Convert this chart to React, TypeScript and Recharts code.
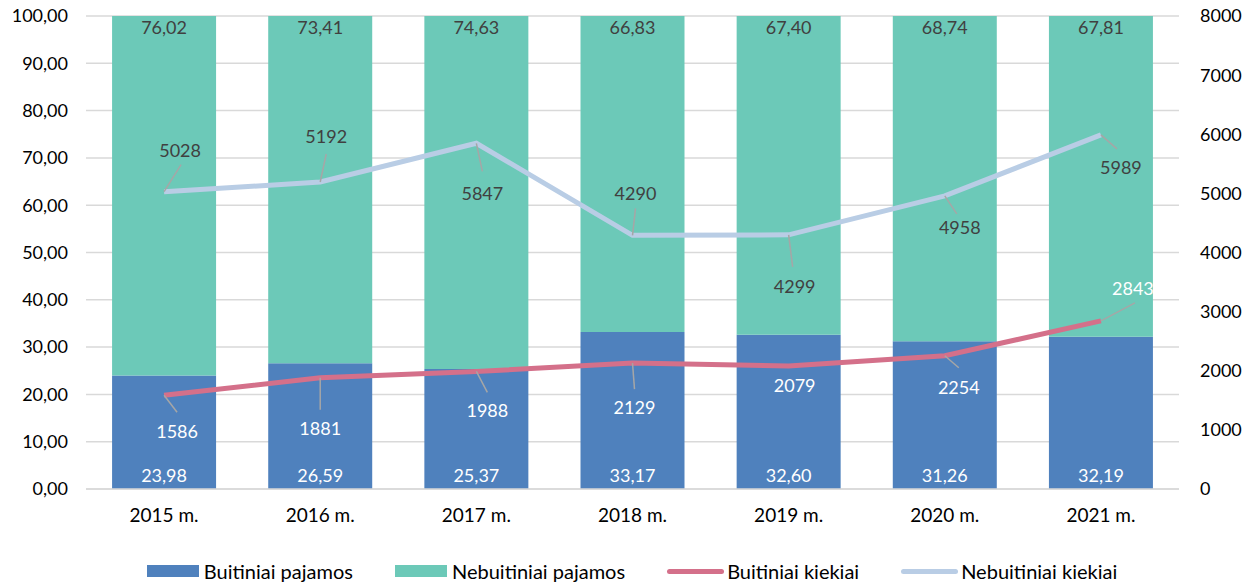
import React from 'react';
import { ComposedChart, Bar, Line, XAxis, YAxis, CartesianGrid, Legend, LabelList } from 'recharts';

const years = ['2015 m.', '2016 m.', '2017 m.', '2018 m.', '2019 m.', '2020 m.', '2021 m.'];
const buitiniaiPajamos = [23.98, 26.59, 25.37, 33.17, 32.6, 31.26, 32.19];
const nebuitiniaiPajamos = [76.02, 73.41, 74.63, 66.83, 67.4, 68.74, 67.81];
const buitiniaiKiekiai = [1586, 1881, 1988, 2129, 2079, 2254, 2843];
const nebuitiniaiKiekiai = [5028, 5192, 5847, 4290, 4299, 4958, 5989];
const leftTicks = [0, 10, 20, 30, 40, 50, 60, 70, 80, 90, 100];
const rightTicks = [0, 1000, 2000, 3000, 4000, 5000, 6000, 7000, 8000];

// label placement for line labels: [leaderDx, leaderDy, textDx, textDy]
const buitLabelPos = [
  [13, 17, 13, 36], [0, 32, 0, 50], [11, 21, 11, 39], [2, 26, 2, 44],
  [0, 0, 6, 19], [14, 12, 14, 31], [34, -18, 32, -33],
];
const nebuitLabelPos = [
  [17, -27, 16, -42], [6, -28, 6, -46], [6, 28, 6, 50], [3, -27, 3, -42],
  [4, 32, 6, 51], [12, 18, 15, 31], [16, 14, 20, 32],
];

const data = years.map((y, i) => ({
  year: y,
  bp: buitiniaiPajamos[i],
  np: nebuitiniaiPajamos[i],
  bk: buitiniaiKiekiai[i],
  nk: nebuitiniaiKiekiai[i],
}));

const FONT = 'Lato, "Open Sans", sans-serif';
const fmt2 = (v: number) => v.toFixed(2).replace('.', ',');

const makeLineLabel = (pos: number[][], color: string) => (props: any) => {
  const { x, y, index, value } = props;
  const p = pos[index];
  return (
    <g>
      {(p[0] !== 0 || p[1] !== 0) && (
        <line x1={x} y1={y} x2={x + p[0]} y2={y + p[1]} stroke="#A6A6A6" strokeWidth={1.5} />
      )}
      <text x={x + p[2]} y={y + p[3]} textAnchor="middle" dominantBaseline="central" fill={color} fontSize={18} fontFamily={FONT}>
        {value}
      </text>
    </g>
  );
};

const bottomLabel = (props: any) => {
  const { x, y, width, height, value } = props;
  return (
    <text x={x + width / 2} y={y + height - 14} textAnchor="middle" dominantBaseline="central" fill="#fff" fontSize={18} fontFamily={FONT}>
      {fmt2(value)}
    </text>
  );
};

const topLabel = (props: any) => {
  const { x, y, width, value } = props;
  return (
    <text x={x + width / 2} y={y + 11} textAnchor="middle" dominantBaseline="central" fill="#404040" fontSize={18} fontFamily={FONT}>
      {fmt2(value)}
    </text>
  );
};

const legendItems = [
  { name: 'Buitiniai pajamos', color: '#4F81BD', kind: 'rect' },
  { name: 'Nebuitiniai pajamos', color: '#6CC9B8', kind: 'rect' },
  { name: 'Buitiniai kiekiai', color: '#D4708A', kind: 'line' },
  { name: 'Nebuitiniai kiekiai', color: '#B9CDE5', kind: 'line' },
];

const renderLegend = () => (
  <div style={{ display: 'flex', justifyContent: 'center', alignItems: 'center', gap: 42, height: 40, paddingTop: 16, paddingLeft: 6, boxSizing: 'border-box', fontFamily: FONT, fontSize: 20, color: '#000' }}>
    {legendItems.map((it) => (
      <div key={it.name} style={{ display: 'flex', alignItems: 'center' }}>
        {it.kind === 'rect' ? (
          <div style={{ width: 52, height: 12, background: it.color, marginRight: 5 }} />
        ) : (
          <div style={{ width: 57, height: 5, borderRadius: 3, background: it.color, marginRight: 3 }} />
        )}
        <span>{it.name}</span>
      </div>
    ))}
  </div>
);

export default function App() {
  return (
    <div style={{ position: 'absolute', left: 0, top: 0, background: '#fff' }}>
      <ComposedChart width={1258} height={583} data={data} margin={{ top: 16, right: 8, bottom: 0, left: 8 }} barCategoryGap="16.7%">
        <CartesianGrid vertical={false} stroke="#D9D9D9" strokeWidth={1.5} yAxisId="left" />
        <XAxis
          dataKey="year"
          axisLine={{ stroke: '#D9D9D9', strokeWidth: 1.5 }}
          tickLine={false}
          height={54}
          tickMargin={14}
          tick={{ fill: '#000', fontSize: 19, fontFamily: FONT }}
        />
        <YAxis
          yAxisId="left"
          domain={[0, 100]}
          ticks={leftTicks}
          tickFormatter={fmt2}
          axisLine={false}
          tickLine={false}
          width={78}
          tickMargin={12}
          tick={{ fill: '#000', fontSize: 18, fontFamily: FONT }}
        />
        <YAxis
          yAxisId="right"
          orientation="right"
          domain={[0, 8000]}
          ticks={rightTicks}
          axisLine={false}
          tickLine={false}
          width={71}
          tickMargin={15}
          tick={{ fill: '#000', fontSize: 18, fontFamily: FONT, textAnchor: 'start' }}
        />
        <Legend verticalAlign="bottom" height={40} content={renderLegend} />
        <Bar yAxisId="left" dataKey="bp" stackId="a" fill="#4F81BD" name="Buitiniai pajamos" isAnimationActive={false}>
          <LabelList dataKey="bp" content={bottomLabel} />
        </Bar>
        <Bar yAxisId="left" dataKey="np" stackId="a" fill="#6CC9B8" name="Nebuitiniai pajamos" isAnimationActive={false}>
          <LabelList dataKey="np" content={topLabel} />
        </Bar>
        <Line yAxisId="right" dataKey="bk" stroke="#D4708A" strokeWidth={5} dot={false} name="Buitiniai kiekiai" isAnimationActive={false}>
          <LabelList dataKey="bk" content={makeLineLabel(buitLabelPos, '#fff')} />
        </Line>
        <Line yAxisId="right" dataKey="nk" stroke="#B9CDE5" strokeWidth={5} dot={false} name="Nebuitiniai kiekiai" isAnimationActive={false}>
          <LabelList dataKey="nk" content={makeLineLabel(nebuitLabelPos, '#404040')} />
        </Line>
      </ComposedChart>
    </div>
  );
}
